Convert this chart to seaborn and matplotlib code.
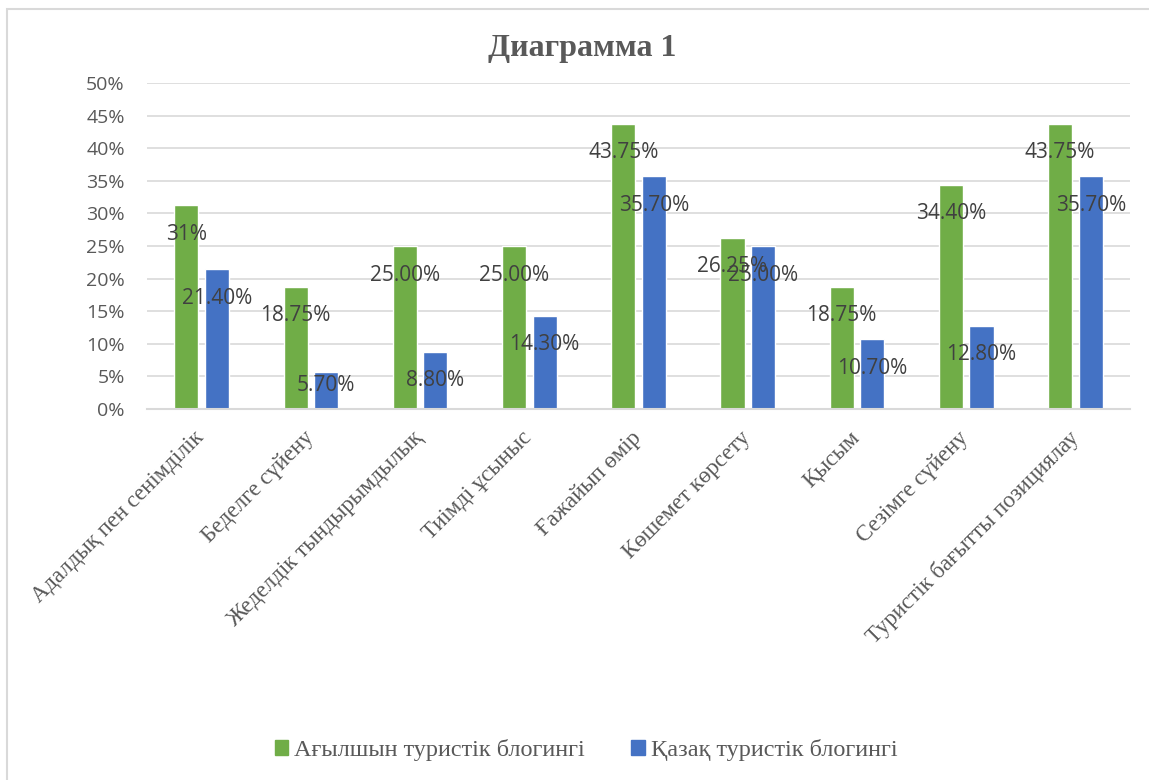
import matplotlib
matplotlib.use("Agg")
import matplotlib.pyplot as plt
import matplotlib.patches as mpatches
from matplotlib.ticker import FuncFormatter, MultipleLocator
from matplotlib.transforms import ScaledTranslation
import seaborn as sns
import pandas as pd

categories = ["Адалдық пен сенімділік", "Беделге сүйену", "Жеделдік тындырымдылық",
              "Тиімді ұсыныс", "Ғажайып өмір", "Көшемет көрсету", "Қысым",
              "Сезімге сүйену", "Туристік бағытты позициялау"]
series_names = ["Ағылшын туристік блогингі", "Қазақ туристік блогингі"]
english_vals = [31.25, 18.75, 25.00, 25.00, 43.75, 26.25, 18.75, 34.40, 43.75]
kazakh_vals = [21.40, 5.70, 8.80, 14.30, 35.70, 25.00, 10.70, 12.80, 35.70]
english_labels = ["31%", "18.75%", "25.00%", "25.00%", "43.75%", "26.25%", "18.75%", "34.40%", "43.75%"]
kazakh_labels = ["21.40%", "5.70%", "8.80%", "14.30%", "35.70%", "25.00%", "10.70%", "12.80%", "35.70%"]
title = "Диаграмма 1"

colors = ["#70AD47", "#4472C4"]

df = pd.DataFrame({
    "cat": categories * 2,
    "series": [series_names[0]] * len(categories) + [series_names[1]] * len(categories),
    "val": english_vals + kazakh_vals,
})

sns.set_style("white")
plt.rcParams["font.family"] = ["Open Sans", "DejaVu Sans"]

fig = plt.figure(figsize=(11.49, 7.8), dpi=100)
ax = fig.add_axes([0.128, 0.4756, 0.8555, 0.418])

sns.barplot(data=df, x="cat", y="val", hue="series", palette=colors,
            width=0.56, gap=0.214, ax=ax, legend=False, saturation=1,
            order=categories, hue_order=series_names, errorbar=None)

ax.set_ylim(0, 50)
ax.set_xlim(-0.5, len(categories) - 0.5)
ax.yaxis.set_major_locator(MultipleLocator(5))
ax.yaxis.set_major_formatter(FuncFormatter(lambda v, p: f"{v:.0f}%"))
ax.grid(axis="y", color="#D9D9D9", linewidth=1.2)
ax.grid(axis="x", visible=False)
ax.set_axisbelow(True)
for s in ["top", "right", "left"]:
    ax.spines[s].set_visible(False)
ax.spines["bottom"].set_color("#D9D9D9")
ax.spines["bottom"].set_linewidth(1.5)
ax.tick_params(axis="both", length=0)
ax.tick_params(axis="y", labelsize=14, labelcolor="#595959", pad=16)
ax.set_xlabel("")
ax.set_ylabel("")

ax.set_xticks(range(len(categories)))
ax.set_xticklabels(categories, rotation=45, ha="right", rotation_mode="anchor",
                   family=["Liberation Serif"], fontsize=16.5, color="#595959")
ax.tick_params(axis="x", pad=6)
shift = ScaledTranslation(-0.08, -0.10, fig.dpi_scale_trans)
for lbl in ax.get_xticklabels():
    lbl.set_transform(lbl.get_transform() + shift)

# data labels
for container, labels in zip(ax.containers, [english_labels, kazakh_labels]):
    for bar, lab in zip(container, labels):
        v = bar.get_height()
        ly = max(v - 4.45, 3.68)
        ax.text(bar.get_x() + bar.get_width() / 2, ly, lab, ha="center", va="center",
                fontsize=15, color="#404040")

fig.text(0.5065, 0.938, title, ha="center", va="center", fontsize=23,
         fontweight="bold", family=["Liberation Serif"], color="#595959")

handles = [mpatches.Patch(color=c, label=n) for c, n in zip(colors, series_names)]
fig.legend(handles=handles, loc="center", bbox_to_anchor=(586 / 1149, 1 - 750 / 780),
           ncol=2, frameon=False, prop={"family": "Liberation Serif", "size": 17.5},
           labelcolor="#595959", handlelength=0.55, handleheight=0.55,
           handletextpad=0.25, columnspacing=1.9)

border = mpatches.Rectangle((7 / 1149, -0.05), 1.1, 1 - 9 / 780 + 0.05,
                            transform=fig.transFigure, fill=False,
                            edgecolor="#D9D9D9", linewidth=1.5)
fig.add_artist(border)

fig.savefig("out.png", dpi=100, facecolor="white")
